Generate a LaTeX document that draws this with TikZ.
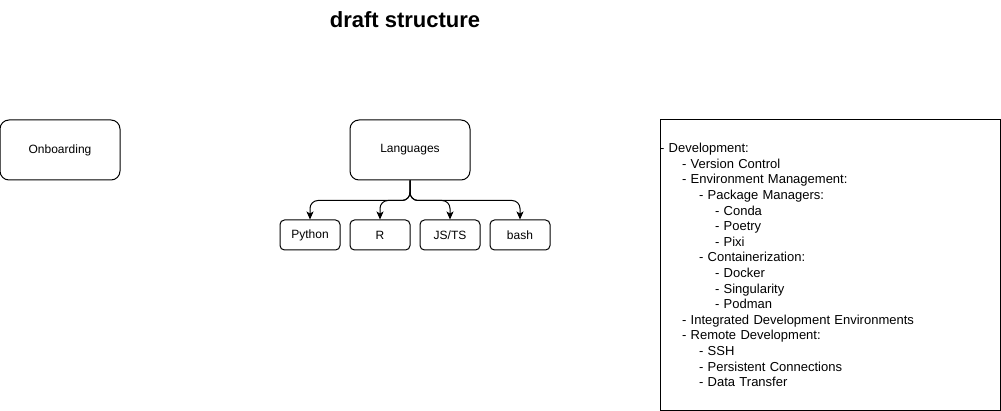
\documentclass[tikz,border=0pt]{standalone}
\usepackage{fontspec}
\setmainfont{Liberation Sans}
\usetikzlibrary{arrows.meta, positioning}

\begin{document}
\begin{tikzpicture}[
        x=1pt, y=-1pt,
        font=\fontsize{12}{15.6}\selectfont,
        node distance=9pt and 9pt,
        box/.style={draw, line width=1pt, rounded corners=9pt, minimum width=120pt, minimum height=60pt, align=center},
        leaf/.style={draw, line width=1pt, rounded corners=4.5pt, minimum width=60pt, minimum height=30pt, align=center},
        line/.style={-{Stealth[length=8pt, width=7pt, inset=2pt]}, line width=1pt, rounded corners=8pt}
    ]
    \useasboundingbox (0,0) rectangle (1001,411);

    % Title
    \node[font=\bfseries\fontsize{22}{26}\selectfont] (title) at (405,20) {draft structure};

    % Top row
    \node[box] (lang) at (410,150) {Languages};
    \node[box, left=229pt of lang] (onboard) {Onboarding};

    % Languages
    \node[leaf] (python) at (310,235) {Python};
    \node[leaf, right=of python] (rlang) {R};
    \node[leaf, right=of rlang] (jsts) {JS/TS};
    \node[leaf, right=of jsts] (bash) {bash};

    % Outline
    \node[draw, line width=1pt, font=\fontsize{13}{15.6}\selectfont, minimum width=340pt, minimum height=290pt, text width=340pt, inner sep=0pt, align=left] (devbox) at (830,265) {%
        - Development:\\
        \hspace*{22pt}- Version Control\\
        \hspace*{22pt}- Environment Management:\\
        \hspace*{39pt}- Package Managers:\\
        \hspace*{55pt}- Conda\\
        \hspace*{55pt}- Poetry\\
        \hspace*{55pt}- Pixi\\
        \hspace*{39pt}- Containerization:\\
        \hspace*{55pt}- Docker\\
        \hspace*{55pt}- Singularity\\
        \hspace*{55pt}- Podman\\
        \hspace*{22pt}- Integrated Development Environments\\
        \hspace*{22pt}- Remote Development:\\
        \hspace*{39pt}- SSH\\
        \hspace*{39pt}- Persistent Connections\\
        \hspace*{39pt}- Data Transfer};

    % Arrows
    \foreach \leafname in {python, rlang, jsts, bash}
        \draw[line] (lang.south) -- ++(0,20) -| (\leafname.north);

\end{tikzpicture}
\end{document}
